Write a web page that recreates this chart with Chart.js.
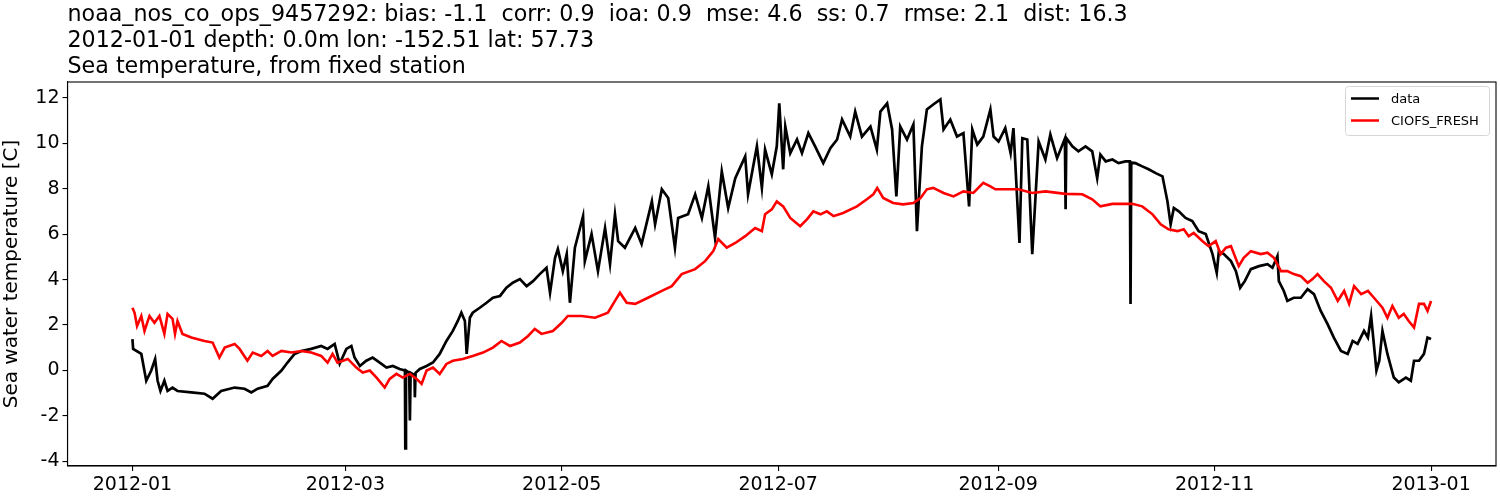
<!DOCTYPE html>
<html>
<head>
<meta charset="utf-8">
<script src="https://cdn.jsdelivr.net/npm/chart.js@4.4.1/dist/chart.umd.min.js"></script>
<style>
  body { margin: 0; background: #fff; }
  canvas { display: block; }
</style>
</head>
<body>
<canvas id="grafico" width="1500" height="500"></canvas>
<script>
// dias desde 2012-01-01 e temperaturas
const dataDays = [0, 0.2, 2.5, 3.9, 5.3, 6.4, 7.1, 7.9, 9.0, 9.9, 11.3, 12.7, 16.6, 20.3, 22.6, 25.0, 28.8, 31.6, 33.5, 35.3,
  38.1, 39.5, 42.0, 43.7, 45.7, 47.6, 50.4, 53.2, 55.0, 57.0, 58.4, 60.3, 61.7, 62.6, 64.1, 65.9, 67.7, 69.7, 71.6, 73.4,
  75.3, 76.8, 76.9, 77.1, 78.0, 78.2, 78.4, 79.5, 79.6, 79.8, 81.0, 82.9, 84.7, 86.6, 88.5, 90.3, 91.7, 92.7, 93.7, 94.2,
  95.1, 95.9, 97.9, 99.8, 101.6, 103.6, 105.4, 107.2, 109.2, 111.1, 112.9, 114.8, 116.7, 117.7, 119.1, 119.9, 121.3, 122.4, 123.3, 124.7,
  127.0, 127.5, 129.4, 131.2, 133.2, 134.6, 136.0, 136.9, 138.8, 141.7, 143.5, 146.4, 147.3, 149.2, 151.0, 152.9, 153.8, 156.6, 158.6, 160.5,
  162.3, 164.2, 166.1, 167.9, 169.9, 172.7, 173.5, 176.0, 177.4, 178.3, 180.2, 181.6, 182.3, 183.4, 184.0, 185.4, 187.3, 188.7, 190.5, 192.4,
  194.7, 196.7, 198.6, 200.0, 202.3, 203.7, 205.6, 208.0, 209.8, 210.8, 212.7, 214.1, 215.3, 216.4, 218.3, 220.1, 221.1, 222.5, 223.9, 225.7,
  227.7, 228.6, 230.5, 232.4, 234.2, 235.8, 236.7, 238.1, 239.8, 241.8, 242.7, 244.1, 246.0, 247.5, 248.3, 250.0, 250.8, 252.2, 253.6, 255.4,
  257.3, 258.7, 260.6, 262.8, 263.0, 263.2, 264.9, 266.6, 268.6, 270.5, 271.9, 272.8, 274.3, 276.2, 277.9, 279.9, 281.1, 281.3, 281.5, 282.7,
  284.6, 286.4, 288.4, 290.3, 291.7, 292.6, 293.5, 294.9, 296.8, 298.7, 300.5, 302.5, 304.4, 305.6, 306.2, 307.6, 309.6, 311.0, 312.2, 313.5,
  315.2, 317.5, 319.9, 321.3, 322.7, 323.1, 324.5, 325.5, 327.3, 329.3, 331.2, 333.0, 334.9, 336.8, 338.6, 340.6, 342.5, 343.9, 345.3, 347.1,
  348.2, 349.1, 350.6, 351.4, 352.3, 353.7, 355.5, 356.9, 358.9, 360.3, 361.2, 362.6, 364.0, 365.0, 366.0];
const dataTemp = [1.38, 0.95, 0.73, -0.45, 0, 0.5, -0.45, -0.9, -0.45, -0.9, -0.75, -0.9, -0.96, -1.02, -1.24, -0.9, -0.75, -0.8, -0.96, -0.8,
  -0.67, -0.37, 0, 0.35, 0.73, 0.86, 0.95, 1.08, 0.95, 1.17, 0.3, 0.95, 1.08, 0.57, 0.2, 0.43, 0.57, 0.35, 0.13, 0.2,
  0.07, 0, -3.43, 0, -0.1, -2.2, -0.1, -0.2, -1.18, -0.1, 0.07, 0.2, 0.35, 0.73, 1.3, 1.74, 2.18, 2.54, 2.18, 0.73,
  2.32, 2.54, 2.76, 2.98, 3.2, 3.28, 3.64, 3.86, 4.02, 3.71, 3.93, 4.24, 4.52, 3.42, 4.96, 5.34, 4.37, 5.12, 2.98, 5.4,
  6.79, 4.81, 6.0, 4.37, 6.27, 4.68, 6.87, 5.69, 5.4, 6.27, 5.56, 7.44, 6.43, 7.97, 7.59, 5.4, 6.71, 6.87, 7.75, 6.71,
  8.1, 5.83, 8.76, 7.15, 8.46, 9.42, 7.75, 9.86, 8.03, 9.72, 8.63, 9.86, 11.75, 8.85, 10.73, 9.56, 10.16, 9.56, 10.44, 9.86,
  9.12, 9.78, 10.16, 11.04, 10.29, 11.39, 10.29, 10.73, 9.72, 11.39, 11.75, 10.6, 7.66, 10.73, 10.16, 10.82, 6.13, 9.86, 11.48, 11.7,
  11.92, 10.6, 11.04, 10.29, 10.44, 7.22, 10.6, 9.94, 10.29, 11.48, 10.29, 10.07, 10.66, 9.56, 10.66, 5.61, 10.22, 10.16, 5.12, 10.07,
  9.28, 10.38, 9.34, 10.2, 7.09, 10.22, 9.86, 9.64, 9.86, 9.64, 8.46, 9.5, 9.2, 9.28, 9.12, 9.2, 9.2, 2.93, 9.15, 9.12,
  8.98, 8.85, 8.68, 8.54, 7.44, 6.43, 7.15, 7.0, 6.71, 6.57, 6.13, 6.0, 5.12, 4.3, 5.25, 5.12, 4.81, 4.37, 3.64, 3.93,
  4.46, 4.59, 4.68, 4.52, 5.03, 3.93, 3.5, 3.06, 3.2, 3.2, 3.58, 3.36, 2.62, 2.05, 1.45, 0.86, 0.73, 1.3, 1.17, 1.74,
  1.45, 2.4, 0, 0.43, 1.74, 0.73, -0.31, -0.52, -0.31, -0.45, 0.43, 0.43, 0.73, 1.45, 1.39];

const modelDays = [0, 0.6, 1.3, 2.5, 3.4, 4.8, 6.2, 7.6, 9.0, 9.9, 11.3, 12.0, 12.7, 14.1, 16.6, 20.3, 22.6, 24.5, 26.0, 28.8,
  30.2, 32.4, 33.9, 36.3, 38.1, 39.5, 42.0, 44.8, 47.6, 50.4, 53.2, 55.0, 56.4, 57.8, 60.7, 63.1, 64.9, 66.9, 68.8, 71.1,
  72.5, 74.4, 76.2, 78.2, 80.1, 81.5, 82.9, 84.7, 86.6, 88.5, 90.3, 93.1, 95.9, 98.8, 101.6, 104.0, 106.4, 109.2, 111.5, 113.4,
  115.3, 118.5, 121.0, 122.7, 126.6, 130.4, 134.0, 136.0, 137.4, 139.3, 141.7, 145.3, 149.2, 152.0, 154.8, 158.6, 161.4, 163.7, 165.1, 167.5,
  169.9, 172.7, 175.5, 177.4, 178.3, 180.2, 181.6, 183.4, 185.4, 188.2, 190.1, 191.9, 193.9, 195.7, 197.6, 200.3, 204.2, 207.0, 208.8, 209.9,
  211.6, 214.4, 217.2, 220.1, 222.1, 223.9, 225.7, 228.6, 231.4, 234.2, 237.0, 239.8, 241.8, 243.2, 246.0, 249.7, 253.6, 257.3, 263.0, 267.7,
  270.5, 272.8, 276.2, 281.8, 284.6, 287.5, 289.8, 292.0, 294.5, 296.3, 297.7, 299.1, 301.6, 303.3, 305.3, 306.7, 308.2, 309.6, 311.8, 313.2,
  315.2, 318.0, 319.9, 321.7, 323.7, 325.5, 327.3, 329.3, 331.2, 332.6, 334.0, 335.8, 337.8, 339.7, 341.5, 342.9, 344.3, 346.3, 348.2, 349.9,
  352.3, 353.7, 355.1, 356.9, 358.3, 359.7, 361.2, 362.6, 364.0, 365.0, 366.0];
const modelTemp = [2.76, 2.54, 1.96, 2.4, 1.74, 2.4, 2.1, 2.4, 1.61, 2.49, 2.27, 1.61, 2.18, 1.61, 1.45, 1.3, 1.23, 0.57, 1.01, 1.17,
  0.95, 0.43, 0.79, 0.64, 0.86, 0.64, 0.86, 0.79, 0.86, 0.79, 0.64, 0.35, 0.73, 0.35, 0.51, 0.13, -0.09, 0, -0.31, -0.75,
  -0.37, -0.15, -0.31, -0.15, -0.37, -0.59, 0, 0.13, -0.15, 0.29, 0.43, 0.51, 0.64, 0.79, 1.01, 1.3, 1.08, 1.23, 1.52, 1.83,
  1.61, 1.74, 2.1, 2.4, 2.4, 2.32, 2.54, 3.06, 3.42, 2.98, 2.93, 3.2, 3.5, 3.71, 4.24, 4.46, 4.81, 5.25, 5.78, 5.4,
  5.61, 5.91, 6.27, 6.13, 6.87, 7.09, 7.44, 7.22, 6.71, 6.35, 6.65, 7.0, 6.87, 7.0, 6.79, 6.93, 7.22, 7.53, 7.75, 8.03,
  7.59, 7.37, 7.31, 7.37, 7.59, 7.97, 8.03, 7.81, 7.66, 7.88, 7.81, 8.25, 8.1, 7.97, 7.97, 7.97, 7.81, 7.88, 7.77, 7.75,
  7.53, 7.22, 7.33, 7.33, 7.22, 6.87, 6.43, 6.21, 6.13, 6.21, 5.91, 6.05, 5.69, 5.47, 5.69, 5.12, 5.4, 5.47, 4.59, 4.96,
  5.25, 5.12, 5.18, 4.96, 4.37, 4.37, 4.24, 4.15, 3.86, 4.02, 4.24, 3.93, 3.64, 3.06, 3.5, 2.93, 3.71, 3.36, 3.5, 3.2,
  2.76, 2.32, 2.84, 2.32, 2.49, 2.18, 1.89, 2.93, 2.93, 2.62, 3.06];

const xTickDays = [0, 60, 121, 182, 244, 305, 366];
const xTickLabels = ["2012-01", "2012-03", "2012-05", "2012-07", "2012-09", "2012-11", "2013-01"];
const yTicks = [-4, -2, 0, 2, 4, 6, 8, 10, 12];

const titulos = [
  "noaa_nos_co_ops_9457292: bias: -1.1  corr: 0.9  ioa: 0.9  mse: 4.6  ss: 0.7  rmse: 2.1  dist: 16.3",
  "2012-01-01 depth: 0.0m lon: -152.51 lat: 57.73",
  "Sea temperature, from fixed station"
];

const fonte = "'DejaVu Sans', sans-serif";

function pontos(dias, valores) {
  return dias.map((d, i) => ({ x: d, y: valores[i] }));
}

// titulo em tres linhas, alinhado à esquerda do eixo
const pluginTitulo = {
  id: "titulo",
  afterDraw(chart) {
    const ctx = chart.ctx;
    ctx.save();
    ctx.fillStyle = "#000";
    ctx.font = "22.2px " + fonte;
    ctx.textAlign = "left";
    ctx.textBaseline = "alphabetic";
    const base = [20.5, 46.5, 72.5];
    for (let i = 0; i < titulos.length; i++) {
      ctx.fillText(titulos[i], chart.chartArea.left, base[i]);
    }
    ctx.restore();
  }
};

// moldura completa da área do gráfico
const pluginMoldura = {
  id: "moldura",
  afterDatasetsDraw(chart) {
    const a = chart.chartArea;
    const ctx = chart.ctx;
    ctx.save();
    ctx.strokeStyle = "#000";
    ctx.lineWidth = 1.1;
    ctx.strokeRect(a.left, a.top, a.right - a.left, a.bottom - a.top);
    ctx.restore();
  }
};

// legenda dentro do gráfico, canto superior direito
const pluginLegenda = {
  id: "legendaDentro",
  afterDraw(chart) {
    const a = chart.chartArea;
    const ctx = chart.ctx;
    const w = 144, h = 49;
    const x0 = a.right - 7 - w, y0 = a.top + 4;
    ctx.save();
    ctx.fillStyle = "rgba(255,255,255,0.8)";
    ctx.strokeStyle = "#d6d6d6";
    ctx.lineWidth = 1;
    ctx.beginPath();
    ctx.roundRect(x0 + 0.5, y0 + 0.5, w, h, 3);
    ctx.fill();
    ctx.stroke();
    ctx.font = "13px " + fonte;
    ctx.textBaseline = "middle";
    const ds = chart.data.datasets;
    for (let i = 0; i < ds.length; i++) {
      const y = y0 + 12.5 + i * 22;
      ctx.strokeStyle = ds[i].borderColor;
      ctx.lineWidth = 2.5;
      ctx.beginPath();
      ctx.moveTo(x0 + 6, y);
      ctx.lineTo(x0 + 34, y);
      ctx.stroke();
      ctx.fillStyle = "#000";
      ctx.fillText(ds[i].label, x0 + 46, y + 1);
    }
    ctx.restore();
  }
};

const ctx = document.getElementById("grafico").getContext("2d");
const myChart = new Chart(ctx, {
  type: "line",
  data: {
    datasets: [
      {
        label: "data",
        data: pontos(dataDays, dataTemp),
        borderColor: "#000000",
        borderWidth: 2.7,
        pointRadius: 0,
        tension: 0,
        order: 2
      },
      {
        label: "CIOFS_FRESH",
        data: pontos(modelDays, modelTemp),
        borderColor: "#ff0000",
        borderWidth: 2.6,
        pointRadius: 0,
        tension: 0,
        order: 1
      }
    ]
  },
  options: {
    responsive: false,
    animation: false,
    devicePixelRatio: 1,
    layout: { padding: { top: 82, right: 4, left: 0, bottom: 0 } },
    plugins: {
      legend: { display: false },
      tooltip: { enabled: false }
    },
    scales: {
      x: {
        type: "linear",
        min: -18.3,
        max: 384.3,
        afterFit: (s) => { s.height = 34; },
        afterBuildTicks: (s) => { s.ticks = xTickDays.map(v => ({ value: v })); },
        ticks: {
          color: "#000",
          font: { family: fonte, size: 19 },
          padding: 3,
          maxRotation: 0,
          autoSkip: false,
          callback: (v) => xTickLabels[xTickDays.indexOf(v)]
        },
        grid: { drawOnChartArea: false, color: "#000", tickLength: 5, lineWidth: 1.1 },
        border: { display: true, color: "#000", width: 1.1 }
      },
      y: {
        type: "linear",
        min: -4.2,
        max: 12.69,
        afterFit: (s) => { s.width = 67.5; },
        afterBuildTicks: (s) => { s.ticks = yTicks.map(v => ({ value: v })); },
        ticks: {
          color: "#000",
          font: { family: fonte, size: 19 },
          padding: 3
        },
        grid: { drawOnChartArea: false, color: "#000", tickLength: 5, lineWidth: 1.1 },
        border: { display: true, color: "#000", width: 1.1 },
        title: {
          display: true,
          text: "Sea water temperature [C]",
          color: "#000",
          font: { family: fonte, size: 20 },
          padding: { top: 0, bottom: 0 }
        }
      }
    }
  },
  plugins: [pluginTitulo, pluginMoldura, pluginLegenda]
});
</script>
</body>
</html>
